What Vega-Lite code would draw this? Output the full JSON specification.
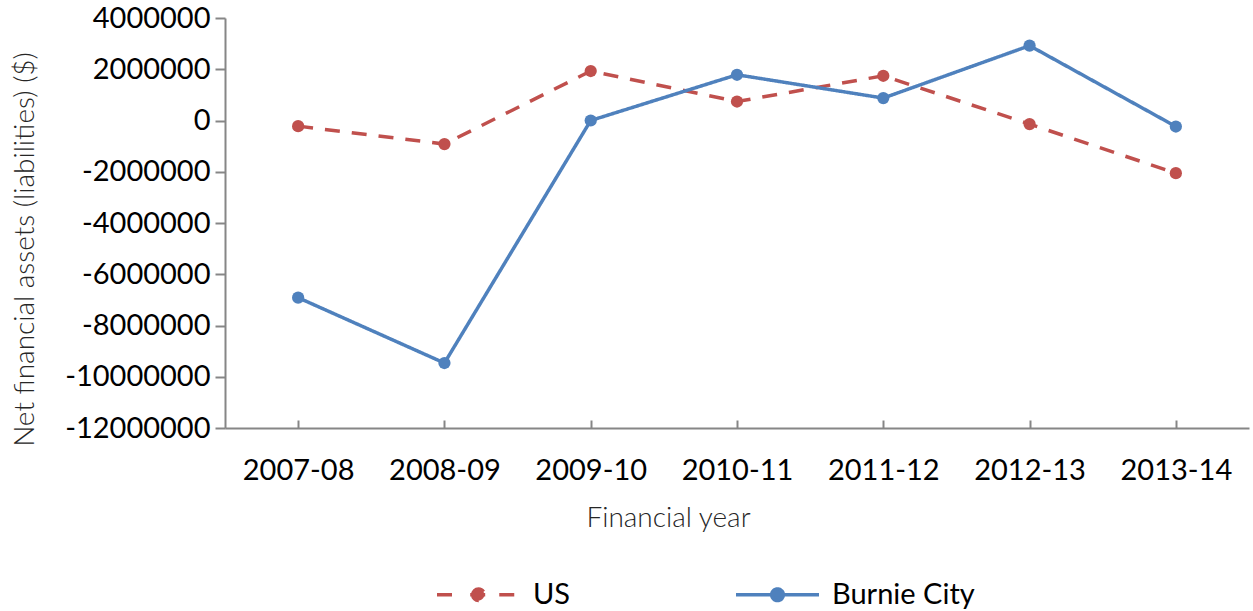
{
  "$schema": "https://vega.github.io/schema/vega-lite/v6.json",
  "width": 1024,
  "height": 410,
  "autosize": {"type": "none"},
  "padding": {"left": 225, "top": 18, "right": 4, "bottom": 183},
  "background": "white",
  "config": {
    "view": {"stroke": null},
    "font": "Lato",
    "axis": {"grid": false, "domainColor": "#868686", "domainWidth": 2, "tickColor": "#868686", "tickWidth": 2, "labelFont": "Lato", "labelFontSize": 29, "labelColor": "#000000", "titleFont": "Lato", "titleFontWeight": 300, "titleFontSize": 28, "titleColor": "#262626"},
    "legend": {"labelFont": "Lato", "labelFontSize": 29, "labelColor": "#000000", "symbolSize": 6889}
  },
  "data": {
    "values": [
      {"year": "2007-08", "series": "US", "value": -220000},
      {"year": "2008-09", "series": "US", "value": -920000},
      {"year": "2009-10", "series": "US", "value": 1930000},
      {"year": "2010-11", "series": "US", "value": 740000},
      {"year": "2011-12", "series": "US", "value": 1745000},
      {"year": "2012-13", "series": "US", "value": -140000},
      {"year": "2013-14", "series": "US", "value": -2055000},
      {"year": "2007-08", "series": "Burnie City", "value": -6915000},
      {"year": "2008-09", "series": "Burnie City", "value": -9465000},
      {"year": "2009-10", "series": "Burnie City", "value": 0},
      {"year": "2010-11", "series": "Burnie City", "value": 1785000},
      {"year": "2011-12", "series": "Burnie City", "value": 875000},
      {"year": "2012-13", "series": "Burnie City", "value": 2920000},
      {"year": "2013-14", "series": "Burnie City", "value": -235000}
    ]
  },
  "encoding": {
    "x": {
      "field": "year", "type": "ordinal",
      "scale": {"type": "point", "padding": 0.5},
      "axis": {"title": "Financial year", "labelAngle": 0, "tickSize": -8, "labelPadding": 50, "labelBaseline": "middle", "titleX": 443, "titleY": 90, "titleBaseline": "middle", "titleAnchor": null, "titleAlign": "center"}
    },
    "y": {
      "field": "value", "type": "quantitative",
      "scale": {"domain": [-12000000, 4000000], "nice": false, "zero": false},
      "axis": {"title": "Net financial assets (liabilities) ($)", "values": [-12000000, -10000000, -8000000, -6000000, -4000000, -2000000, 0, 2000000, 4000000], "labelExpr": "toString(datum.value)", "tickSize": 10, "labelPadding": 5, "titleX": -200, "titleY": 231, "titleAngle": -90, "titleBaseline": "middle", "titleAlign": "center"}
    },
    "color": {
      "field": "series", "type": "nominal",
      "scale": {"domain": ["US", "Burnie City"], "range": ["#C0504D", "#4F81BD"]},
      "legend": {
        "title": null, "orient": "none", "direction": "horizontal", "columns": 2,
        "legendX": 210, "legendY": 533, "labelOffset": 11, "columnPadding": 158, "gridAlign": "each",
        "encode": {"symbols": {"update": {
          "shape": {"signal": "datum.value === 'US' ? 'M-1,0H-0.4M-0.2,0H0.2M0.5,0H1M-0.14,0A0.14,0.14 0 1,1 0.14,0A0.14,0.14 0 1,1 -0.14,0Z' : 'M-1,0H1M-0.14,0A0.14,0.14 0 1,1 0.14,0A0.14,0.14 0 1,1 -0.14,0Z'"},
          "stroke": {"scale": "color", "field": "value"},
          "fill": {"scale": "color", "field": "value"},
          "strokeWidth": {"value": 3.5},
          "strokeDash": {"value": []},
          "size": {"value": 6889}
        }}}
      }
    }
  },
  "layer": [
    {
      "mark": {"type": "line", "strokeWidth": 3.5},
      "encoding": {
        "strokeDash": {
          "field": "series", "type": "nominal",
          "scale": {"domain": ["US", "Burnie City"], "range": [[15, 12], [1, 0]]},
          "legend": null
        }
      }
    },
    {
      "mark": {"type": "point", "filled": true, "size": 150, "opacity": 1}
    }
  ]
}
